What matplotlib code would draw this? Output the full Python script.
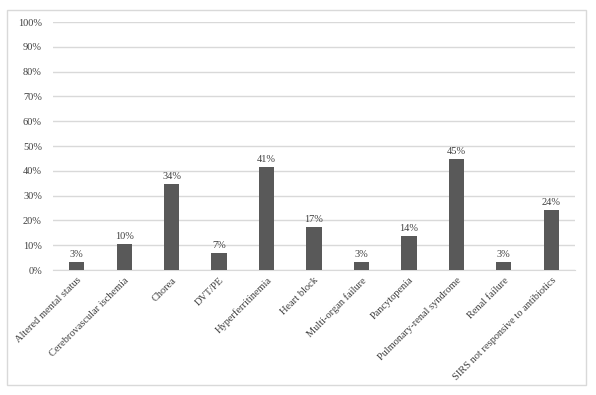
import matplotlib
matplotlib.use("Agg")
import matplotlib.pyplot as plt
from matplotlib.patches import Rectangle
from matplotlib.ticker import FuncFormatter, MultipleLocator

categories = ["Altered mental status", "Cerebrovascular ischemia", "Chorea", "DVT/PE",
              "Hyperferritinemia", "Heart block", "Multi-organ failure", "Pancytopenia",
              "Pulmonary-renal syndrome", "Renal failure", "SIRS not responsive to antibiotics"]
values = [3.4, 10.3, 34.5, 6.9, 41.4, 17.2, 3.4, 13.8, 44.8, 3.4, 24.1]
labels = ["3%", "10%", "34%", "7%", "41%", "17%", "3%", "14%", "45%", "3%", "24%"]

plt.rcParams['font.family'] = ['Liberation Serif', 'DejaVu Serif']

fig = plt.figure(figsize=(5.96, 3.95), dpi=100)
fig.patches.append(Rectangle((7/596, 1-385/395), 579/596, 375/395, transform=fig.transFigure,
                             fill=False, edgecolor='#d9d9d9', linewidth=1))
ax = fig.add_axes([53/596, 1-270/395, 522/596, 248/395])
x = range(len(categories))
ax.bar(x, values, width=0.32, color='#595959', zorder=3)
for xi, v, lab in zip(x, values, labels):
    ax.text(xi, v + 1.2, lab, ha='center', va='bottom', fontsize=7.5, color='#404040')
ax.set_xlim(-0.5, len(categories) - 0.5)
ax.set_ylim(0, 100)
ax.yaxis.set_major_locator(MultipleLocator(10))
ax.yaxis.set_major_formatter(FuncFormatter(lambda v, p: f"{int(v)}%"))
ax.grid(axis='y', color='#d9d9d9', linewidth=1, zorder=0)
for s in ['top', 'right', 'left']:
    ax.spines[s].set_visible(False)
ax.spines['bottom'].set_color('#d9d9d9')
ax.tick_params(axis='both', length=0, labelsize=7.5, colors='#404040')
ax.tick_params(axis='y', pad=8)
ax.set_xticks(list(x))
ax.set_xticklabels(categories, rotation=45, ha='right', rotation_mode='anchor')
ax.tick_params(axis='x', pad=4)
fig.savefig("out.png", dpi=100)
